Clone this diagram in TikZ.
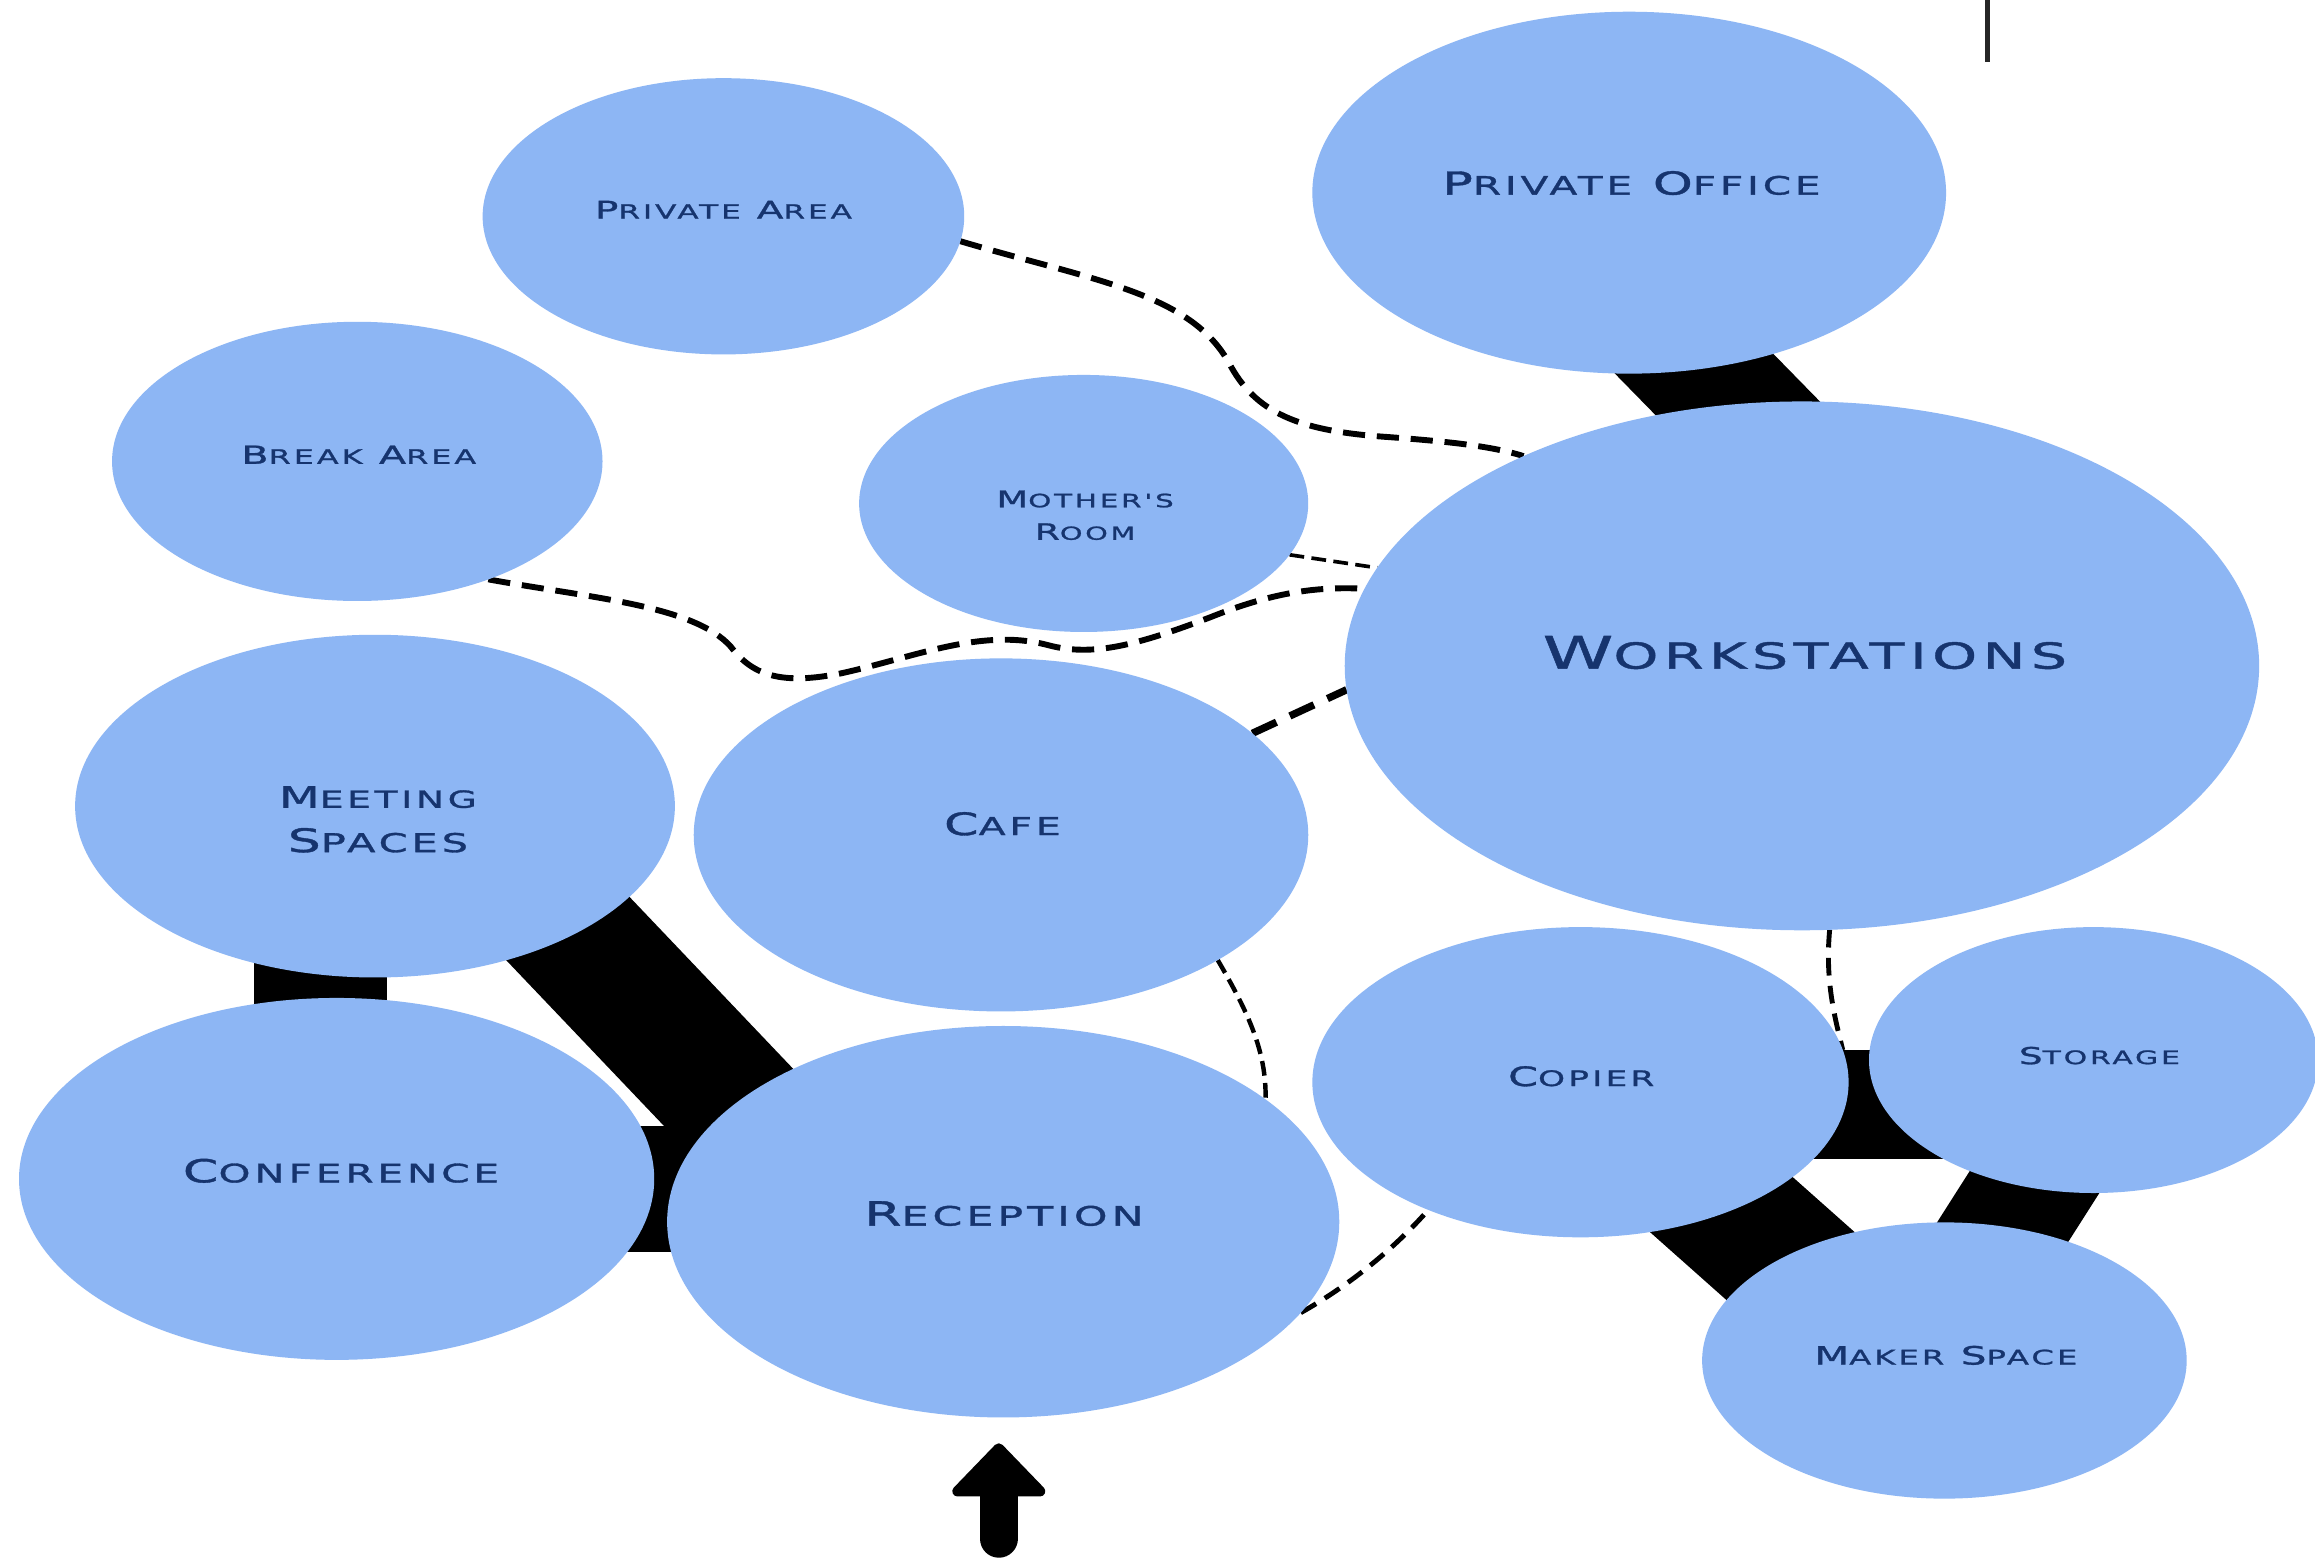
\documentclass[tikz,border=0pt]{standalone}
\usepackage{fontspec}
\usetikzlibrary{calc,shapes.geometric}
\newfontfamily\roomfont[FakeStretch=1.6,LetterSpace=15,FakeBold=1.2]{DejaVu Sans}
\definecolor{roomfill}{RGB}{141,182,244}
\definecolor{roomtext}{RGB}{22,52,110}
\makeatletter
\newcommand\capsc[2]{#1{\fontsize{\fpeval{0.8*\f@size}}{\f@baselineskip}\selectfont #2}}
\makeatother
\pgfdeclarelayer{bg}
\pgfdeclarelayer{links}
\pgfsetlayers{bg,links,main}
\tikzset{
  room/.style={ellipse, fill=roomfill, draw=none, inner sep=0pt, outer sep=0pt},
  roomlabel/.style={text=roomtext, inner sep=0pt, align=center,
                    font=\roomfont\fontsize{10}{12}\selectfont},
  solidlink/.style={line width=#1, draw=black, line cap=butt},
  dashlink/.style={line width=0.04cm, dash pattern=on 0.15cm off 0.08cm, line cap=butt},
  heavydash/.style={line width=0.05cm, dash pattern=on 0.18cm off 0.10cm},
  middash/.style={line width=0.033cm, dash pattern=on 0.12cm off 0.07cm},
  thindash/.style={line width=0.025cm, dash pattern=on 0.10cm off 0.05cm},
}
\begin{document}
\begin{tikzpicture}[x=0.01cm,y=-0.01cm]
\useasboundingbox (0,0) rectangle (1568,1057);
\begin{pgfonlayer}{bg}
  \fill[white] (0,0) rectangle (1568,1057);
\end{pgfonlayer}

% rooms
\node[room, minimum width=3.26cm, minimum height=1.87cm] (pa)   at (490,146.5) {};
\node[room, minimum width=4.29cm, minimum height=2.45cm] (po)   at (1103.5,130.5) {};
\node[room, minimum width=3.32cm, minimum height=1.89cm] (ba)   at (242,312.5) {};
\node[room, minimum width=3.04cm, minimum height=1.74cm] (mr)   at (734,341) {};
\node[room, minimum width=6.19cm, minimum height=3.58cm] (ws)   at (1220.5,451) {};
\node[room, minimum width=4.06cm, minimum height=2.32cm] (meet) at (254,546) {};
\node[room, minimum width=4.16cm, minimum height=2.39cm] (cafe) at (678,565.5) {};
\node[room, minimum width=4.30cm, minimum height=2.45cm] (conf) at (228,798.5) {};
\node[room, minimum width=4.55cm, minimum height=2.65cm] (rec)  at (679.5,827.5) {};
\node[room, minimum width=3.63cm, minimum height=2.10cm] (cop)  at (1070.5,733) {};
\node[room, minimum width=3.04cm, minimum height=1.80cm] (sto)  at (1418,718) {};
\node[room, minimum width=3.28cm, minimum height=1.87cm] (mak)  at (1317,921.5) {};

% labels
\node[roomlabel] (pa-l) at ($(pa)+(0,-4.5)$) {\resizebox{1.74cm}{!}{\capsc{P}{RIVATE} \capsc{A}{REA}}};
\node[roomlabel] (po-l) at ($(po)+(1.5,-6.5)$) {\resizebox{2.56cm}{!}{\capsc{P}{RIVATE} \capsc{O}{FFICE}}};
\node[roomlabel] (ba-l) at ($(ba)+(1,-4.5)$) {\resizebox{1.59cm}{!}{\capsc{B}{REAK} \capsc{A}{REA}}};
\node[roomlabel, font=\roomfont\fontsize{6}{6.26pt}\selectfont] (mr-l) at ($(mr)+(1,8)$)
  {\resizebox{1.20cm}{!}{\capsc{M}{OTHER'S}}\\\resizebox{0.68cm}{!}{\capsc{R}{OOM}}};
\node[roomlabel] (ws-l) at ($(ws)+(2,-9)$) {\resizebox{3.55cm}{!}{\capsc{W}{ORKSTATIONS}}};
\node[roomlabel, font=\roomfont\fontsize{6}{8.54pt}\selectfont] (meet-l) at ($(meet)+(2,9)$)
  {\resizebox{1.34cm}{!}{\capsc{M}{EETING}}\\\resizebox{1.22cm}{!}{\capsc{S}{PACES}}};
\node[roomlabel] (cafe-l) at ($(cafe)+(1,-7.5)$) {\resizebox{0.79cm}{!}{\capsc{C}{AFE}}};
\node[roomlabel] (conf-l) at ($(conf)+(3,-5.5)$) {\resizebox{2.14cm}{!}{\capsc{C}{ONFERENCE}}};
\node[roomlabel] (rec-l) at ($(rec)+(0.5,-5.5)$) {\resizebox{1.89cm}{!}{\capsc{R}{ECEPTION}}};
\node[roomlabel] (cop-l) at ($(cop)+(0.5,-4)$) {\resizebox{0.99cm}{!}{\capsc{C}{OPIER}}};
\node[roomlabel] (sto-l) at ($(sto)+(4,-3)$) {\resizebox{1.09cm}{!}{\capsc{S}{TORAGE}}};
\node[roomlabel] (mak-l) at ($(mak)+(1,-3.5)$) {\resizebox{1.78cm}{!}{\capsc{M}{AKER} \capsc{S}{PACE}}};

% entry arrow and stray mark
\coordinate (doortip) at ($(rec.south)+(-3,21)$);
\coordinate (door) at ($(doortip)+(0,61)$);
\coordinate (mk1) at (1346,0);
\coordinate (mk2) at (1346,42);

\begin{pgfonlayer}{links}
  % strong adjacencies
  \draw[solidlink=0.86cm] ($(po)+(4,75)$) -- ($(ws)+(-1,-131)$);
  \draw[solidlink=0.90cm] ($(meet)+(-37,74)$) -- ($(conf)+(-11,-78)$);
  \draw[solidlink=0.90cm] ($(meet)+(85,35)$) -- ($(rec)+(-162,-59)$);
  \draw[solidlink=0.85cm] ($(conf)+(172,7)$) -- ($(rec)+(-160,-22)$);
  \draw[solidlink=0.74cm] ($(cop)+(130,15)$) -- ($(sto)+(-88,30)$);
  \draw[solidlink=0.92cm] ($(cop)+(28,23)$) -- ($(mak)+(-84,-46)$);
  \draw[solidlink=0.82cm] ($(sto)+(-2,23)$) -- ($(mak)+(7,-36)$);

  % weak adjacencies
  \draw[dashlink] (pa.-6) .. controls (740,190) and (805,198) .. (832,245)
        .. controls (850,280) and (880,292) .. (940,296)
        .. controls (980,299) and (1010,302) .. (ws.143);
  \draw[dashlink] (ba.-42) .. controls (400,405) and (470,410) .. (495,438)
        .. controls (510,458) and (530,464) .. (570,456)
        .. controls (620,445) and (665,425) .. (710,437)
        .. controls (740,445) and (770,437) .. (820,418)
        .. controls (860,402) and (890,397) .. (ws.170);
  \draw[thindash] (mr.-14) -- (ws.167);
  \draw[heavydash] (cafe.22) -- (ws.183);
  \draw[thindash, line width=0.03cm] (cafe.-30) .. controls (845,685) and (858,712) .. (rec.25);
  \draw[middash] (rec.-17.5) .. controls (915,870) and (945,845) .. (cop.-140);
  \draw[middash] (ws.-84) .. controls (1236,665) and (1243,690) .. (cop.7);
\end{pgfonlayer}

\draw[line width=0.26cm, line cap=round] (door) -- ($(doortip)+(0,20)$);
\filldraw[line width=0.07cm, line join=round] (doortip) -- ++(-28,29) -- ++(56,0) -- cycle;
\draw[line width=0.034cm, black!85] (mk1) -- (mk2);
\end{tikzpicture}
\end{document}
